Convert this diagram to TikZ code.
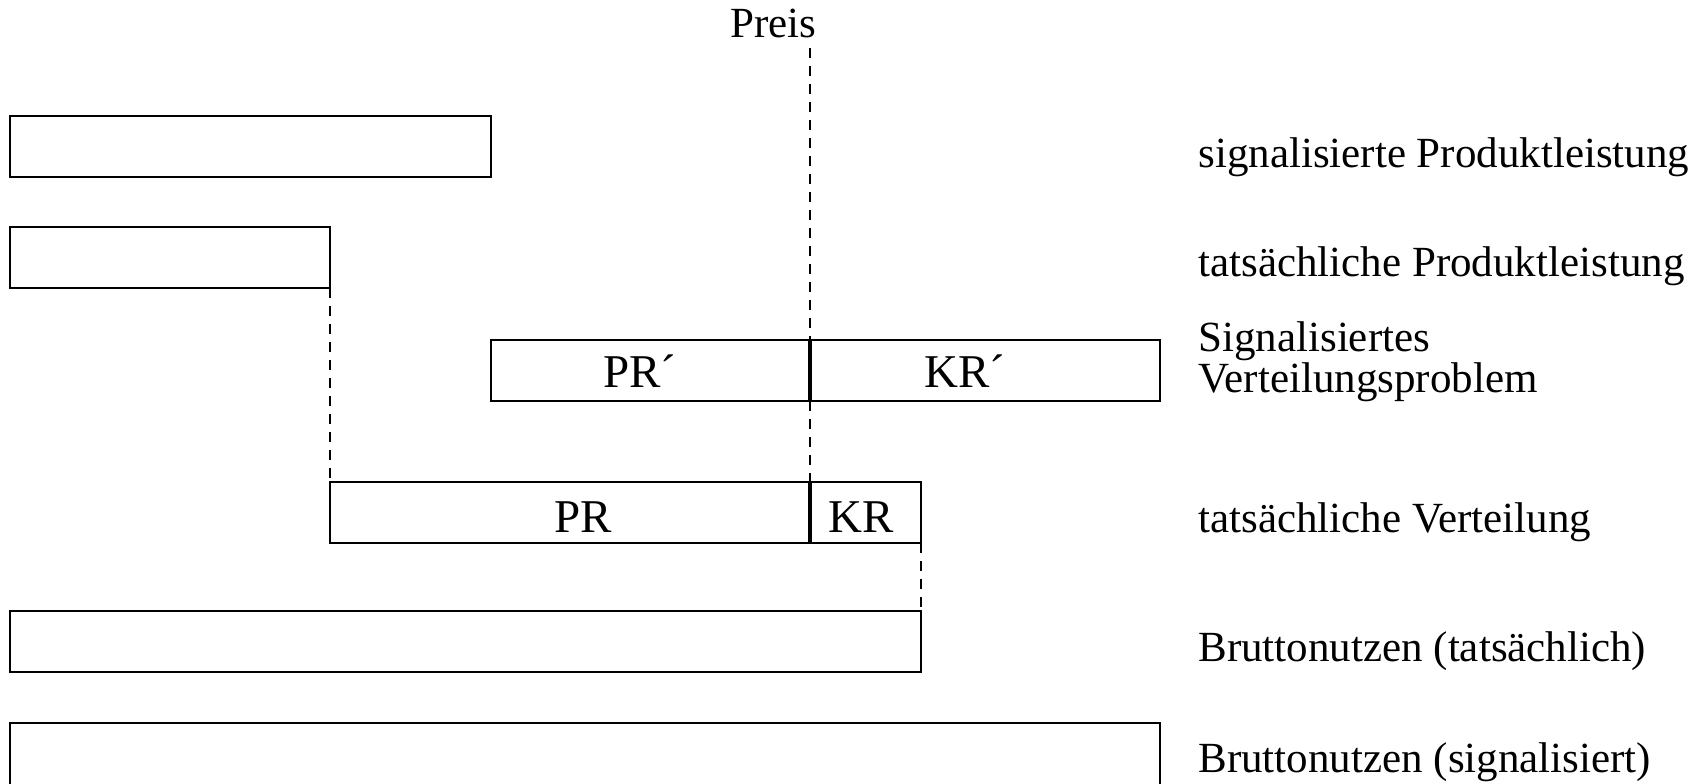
\documentclass[tikz,border=0pt]{standalone}
\usepackage{fontspec}
\setmainfont{Liberation Serif}
\begin{document}
\begin{tikzpicture}[x=0.5pt,y=-0.5pt,
  bar/.style={draw, line width=1.1pt, inner sep=0pt, outer sep=0pt, anchor=north west, minimum height=30.5pt},
  divider/.style={line width=2pt},
  dashline/.style={line width=0.9pt, dash pattern=on 5pt off 4pt},
  lab/.style={anchor=base west, inner sep=0pt, font=\fontsize{21.5pt}{20.5pt}\selectfont},
  boxlab/.style={anchor=base west, inner sep=0pt, font=\fontsize{23.5pt}{26pt}\selectfont}]
\useasboundingbox (0,0) rectangle (1700,783);
\clip (0,0) rectangle (1700,783);
\fill[white] (0,0) rectangle (1700,783);
% boxes
\node[bar, minimum width=240.5pt] (b1) at (10,116) {};
\node[bar, minimum width=160pt] (b2) at (10,227) {};
\node[bar, minimum width=159.5pt] (prs) at (491,340) {};
\node[bar, minimum width=175pt] (krs) at (810,340) {};
\node[bar, minimum width=240pt] (pr) at (330,482) {};
\node[bar, minimum width=55.5pt] (kr) at (810,482) {};
\node[bar, minimum width=455.5pt] (b5) at (10,611) {};
\node[bar, minimum width=575pt, minimum height=40pt] (b6) at (10,723) {};
% dividers
\draw[divider] (prs.north east) -- (prs.south east);
\draw[divider] (pr.north east) -- (pr.south east);
% box labels
\node[boxlab] (tprs) at (603,387) {PR´};
\node[boxlab] (tkrs) at (924,387) {KR´};
\node[boxlab] (tpr) at (554,532) {PR};
\node[boxlab] (tkr) at (828,532) {KR};
% Preis
\node[lab] (preis) at (730,37) {Preis};
\coordinate (ptop) at (810,48);
% dashed connectors
\draw[dashline] (ptop) -- (prs.north east);
\draw[dashline] (prs.south east) -- (pr.north east);
\draw[dashline] (b2.south east) -- (pr.north west);
\draw[dashline] (kr.south east) -- (b5.north east);
% right labels
\node[lab] (l1) at (1198,167) {signalisierte Produktleistung};
\node[lab] (l2) at (1198,276) {tatsächliche Produktleistung};
\node[lab] (l3a) at (1198,351) {Signalisiertes};
\node[lab] (l3b) at (1198,392) {Verteilungsproblem};
\node[lab] (l4) at (1198,532) {tatsächliche Verteilung};
\node[lab] (l5) at (1198,661) {Bruttonutzen (tatsächlich)};
\node[lab] (l6) at (1198,772) {Bruttonutzen (signalisiert)};
\end{tikzpicture}
\end{document}
